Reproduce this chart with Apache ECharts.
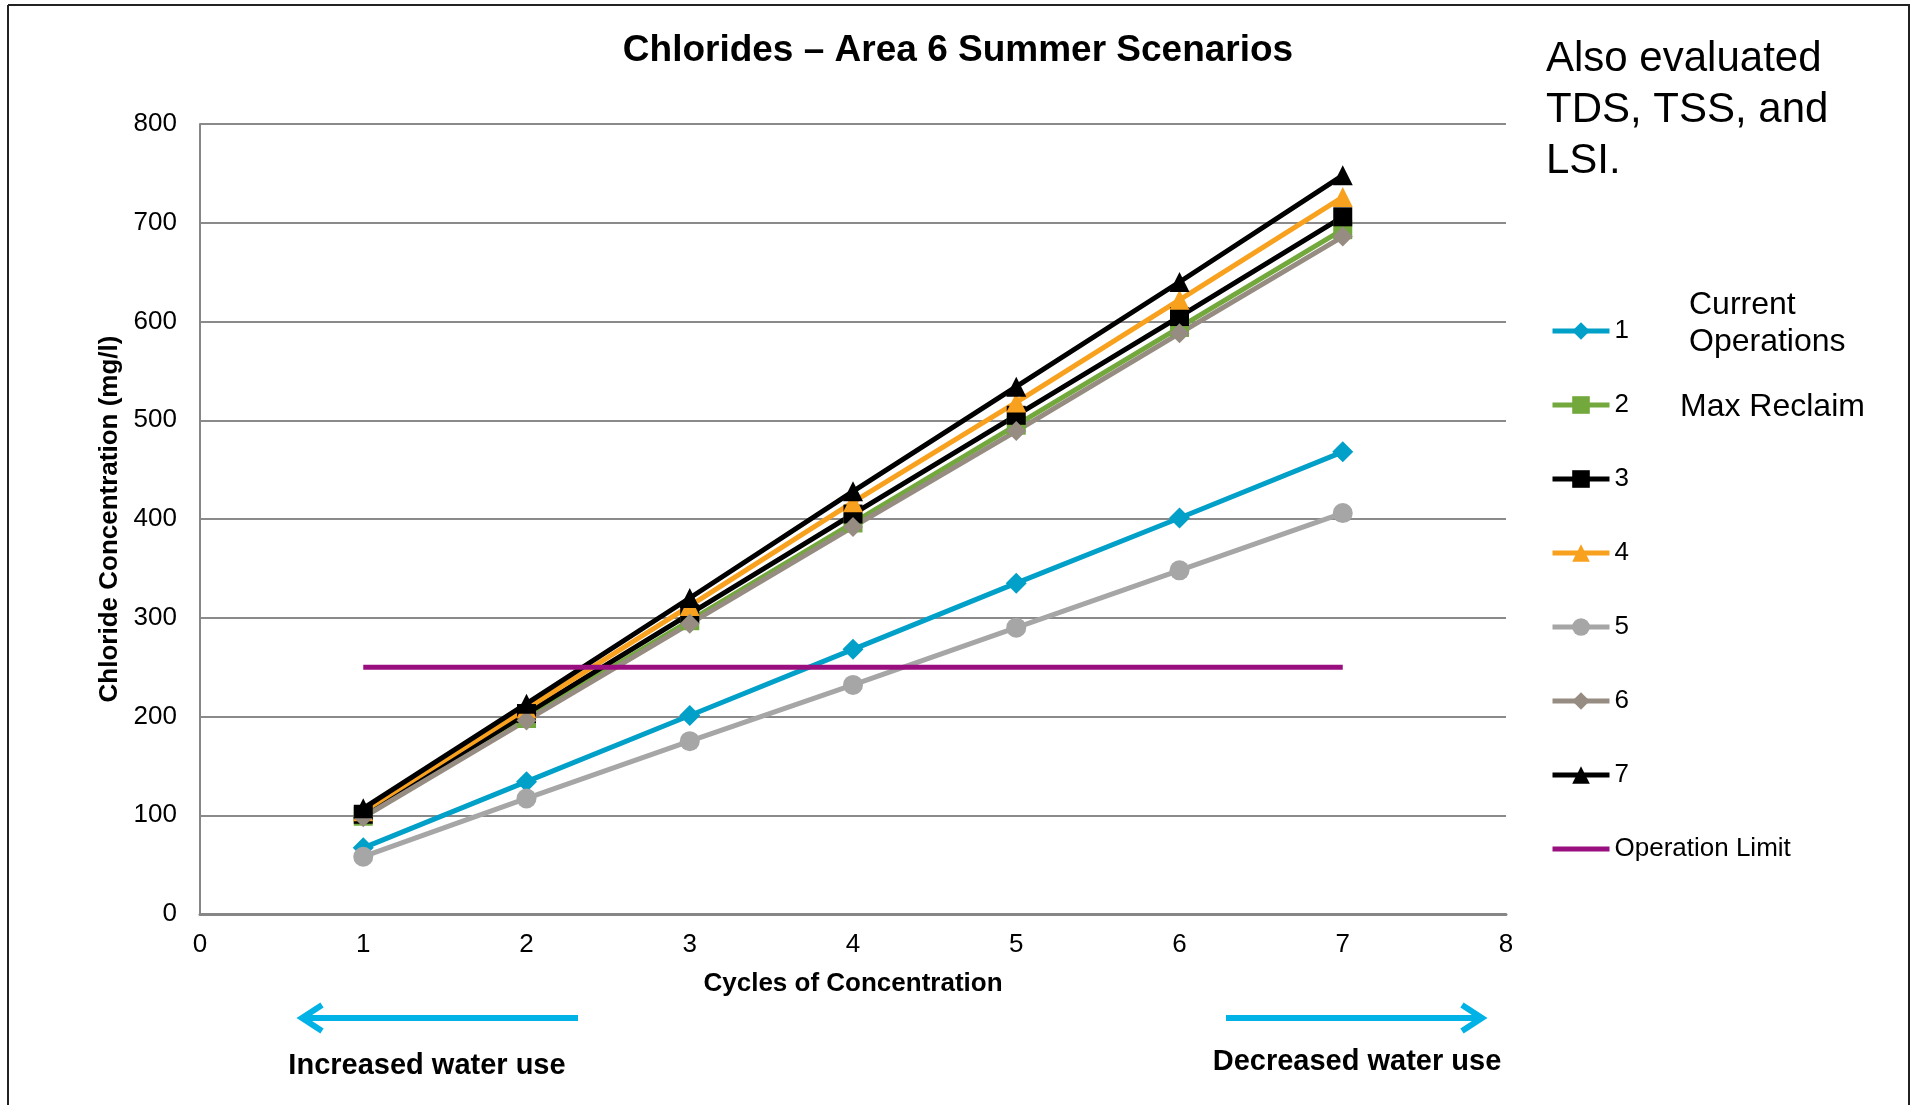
<!DOCTYPE html>
<html><head><meta charset="utf-8">
<script src="https://cdn.jsdelivr.net/npm/echarts@6/dist/echarts.min.js"></script>
<style>html,body{margin:0;padding:0;background:#fff}#c{width:1912px;height:1105px}</style>
</head><body><div id="c"></div>
<script>
// ---- data ----
const cycles = [1, 2, 3, 4, 5, 6, 7];
const s1 = [67, 134, 201, 268, 335, 401, 468];
const s2 = [99, 198, 297, 396, 495, 594, 693];
const s3 = [101, 203, 304, 405, 505, 605, 706];
const s4 = [104, 208, 312, 417, 518, 622, 726];
const s5 = [58, 117, 175, 232, 290, 348, 406];
const s6 = [98, 196, 294, 392, 489, 588, 686];
const s7 = [107, 213, 320, 428, 534, 640, 748];
const opLimit = [250, 250, 250, 250, 250, 250, 250];
const seriesNames = ['1', '2', '3', '4', '5', '6', '7', 'Operation Limit'];
const xMin = 0, xMax = 8, xStep = 1;
const yMin = 0, yMax = 800, yStep = 100;

const FONT = '"Liberation Sans", Arial, sans-serif';
const pts = vals => cycles.map((c, i) => [c, vals[i]]);

function mk(name, vals, color, symbol, size) {
  return {
    name, type: 'line', data: pts(vals),
    symbol, symbolSize: size,
    lineStyle: { color, width: 5 },
    itemStyle: { color },
    emphasis: { disabled: true },
    animation: false
  };
}

const series = [
  mk(seriesNames[0], s1, '#00A0C8', 'diamond', [21, 21]),
  mk(seriesNames[1], s2, '#73A83C', 'rect', 19),
  mk(seriesNames[2], s3, '#000000', 'rect', 19),
  mk(seriesNames[3], s4, '#F8A11E', 'triangle', 20),
  mk(seriesNames[4], s5, '#A6A6A6', 'circle', 20),
  mk(seriesNames[5], s6, '#968C82', 'diamond', [20, 20]),
  mk(seriesNames[6], s7, '#000000', 'triangle', 20),
  mk(seriesNames[7], opLimit, '#9A0F80', 'none', 0)
];

const legendData = seriesNames.map((n, i) =>
  i === seriesNames.length - 1 ? { name: n, icon: 'path://M0,0H57V5H0Z' } : { name: n });

const chart = echarts.init(document.getElementById('c'), null, { renderer: 'canvas' });
const arrowColor = '#00B2E6';
chart.setOption({
  animation: false,
  backgroundColor: '#fff',
  textStyle: { fontFamily: FONT },
  grid: { left: 200, right: 406, top: 124, bottom: 191 },
  xAxis: {
    type: 'value', min: xMin, max: xMax, interval: xStep,
    name: 'Cycles of Concentration', nameLocation: 'middle', nameGap: 57,
    nameTextStyle: { fontFamily: FONT, fontSize: 26, fontWeight: 'bold', color: '#000' },
    axisLine: { show: true, lineStyle: { color: '#868686', width: 3 } },
    axisTick: { show: false },
    splitLine: { show: false },
    axisLabel: { fontFamily: FONT, fontSize: 26, color: '#000', margin: 18 }
  },
  yAxis: {
    type: 'value', min: yMin, max: yMax, interval: yStep,
    name: 'Chloride Concentration (mg/l)', nameLocation: 'middle', nameGap: 75,
    nameTextStyle: { fontFamily: FONT, fontSize: 26, fontWeight: 'bold', color: '#000' },
    axisLine: { show: true, lineStyle: { color: '#868686', width: 2 } },
    axisTick: { show: false },
    splitLine: { show: true, lineStyle: { color: '#8A8A8A', width: 2 } },
    axisLabel: { fontFamily: FONT, fontSize: 26, color: '#000', margin: 23 }
  },
  legend: {
    orient: 'vertical', left: 1550, top: 318,
    itemWidth: 57, itemHeight: 22, itemGap: 48, padding: 0,
    lineStyle: { width: 5 },
    textStyle: { fontFamily: FONT, fontSize: 26, color: '#000' },
    data: legendData,
    selectedMode: false
  },
  series,
  graphic: [
    // frame
    { type: 'line', shape: { x1: 8, y1: 5, x2: 1910, y2: 5 }, style: { stroke: '#222', lineWidth: 2 } },
    { type: 'line', shape: { x1: 8, y1: 5, x2: 8, y2: 1105 }, style: { stroke: '#222', lineWidth: 2 } },
    { type: 'line', shape: { x1: 1909, y1: 5, x2: 1909, y2: 1105 }, style: { stroke: '#222', lineWidth: 2 } },
    // title
    { type: 'text', x: 958, y: 51, style: { text: 'Chlorides \u2013 Area 6 Summer Scenarios', font: 'bold 37px ' + FONT, fill: '#000', align: 'center', verticalAlign: 'middle' } },
    // note
    { type: 'text', x: 1546, y: 59, style: { text: 'Also evaluated', font: '42px ' + FONT, fill: '#000', align: 'left', verticalAlign: 'middle' } },
    { type: 'text', x: 1546, y: 110, style: { text: 'TDS, TSS, and', font: '42px ' + FONT, fill: '#000', align: 'left', verticalAlign: 'middle' } },
    { type: 'text', x: 1546, y: 161, style: { text: 'LSI.', font: '42px ' + FONT, fill: '#000', align: 'left', verticalAlign: 'middle' } },
    { type: 'text', x: 1689, y: 305, style: { text: 'Current', font: '32px ' + FONT, fill: '#000', align: 'left', verticalAlign: 'middle' } },
    { type: 'text', x: 1689, y: 342, style: { text: 'Operations', font: '32px ' + FONT, fill: '#000', align: 'left', verticalAlign: 'middle' } },
    { type: 'text', x: 1680, y: 407, style: { text: 'Max Reclaim', font: '32px ' + FONT, fill: '#000', align: 'left', verticalAlign: 'middle' } },
    // arrows
    { type: 'line', shape: { x1: 303, y1: 1018, x2: 578, y2: 1018 }, style: { stroke: arrowColor, lineWidth: 6 } },
    { type: 'polyline', shape: { points: [[322, 1005], [302, 1018], [322, 1031]] }, style: { stroke: arrowColor, lineWidth: 6, fill: null } },
    { type: 'line', shape: { x1: 1226, y1: 1018, x2: 1481, y2: 1018 }, style: { stroke: arrowColor, lineWidth: 6 } },
    { type: 'polyline', shape: { points: [[1462, 1005], [1482, 1018], [1462, 1031]] }, style: { stroke: arrowColor, lineWidth: 6, fill: null } },
    { type: 'text', x: 427, y: 1066, style: { text: 'Increased water use', font: 'bold 29px ' + FONT, fill: '#000', align: 'center', verticalAlign: 'middle' } },
    { type: 'text', x: 1357, y: 1062, style: { text: 'Decreased water use', font: 'bold 29px ' + FONT, fill: '#000', align: 'center', verticalAlign: 'middle' } }
  ]
});
</script>
</body></html>
